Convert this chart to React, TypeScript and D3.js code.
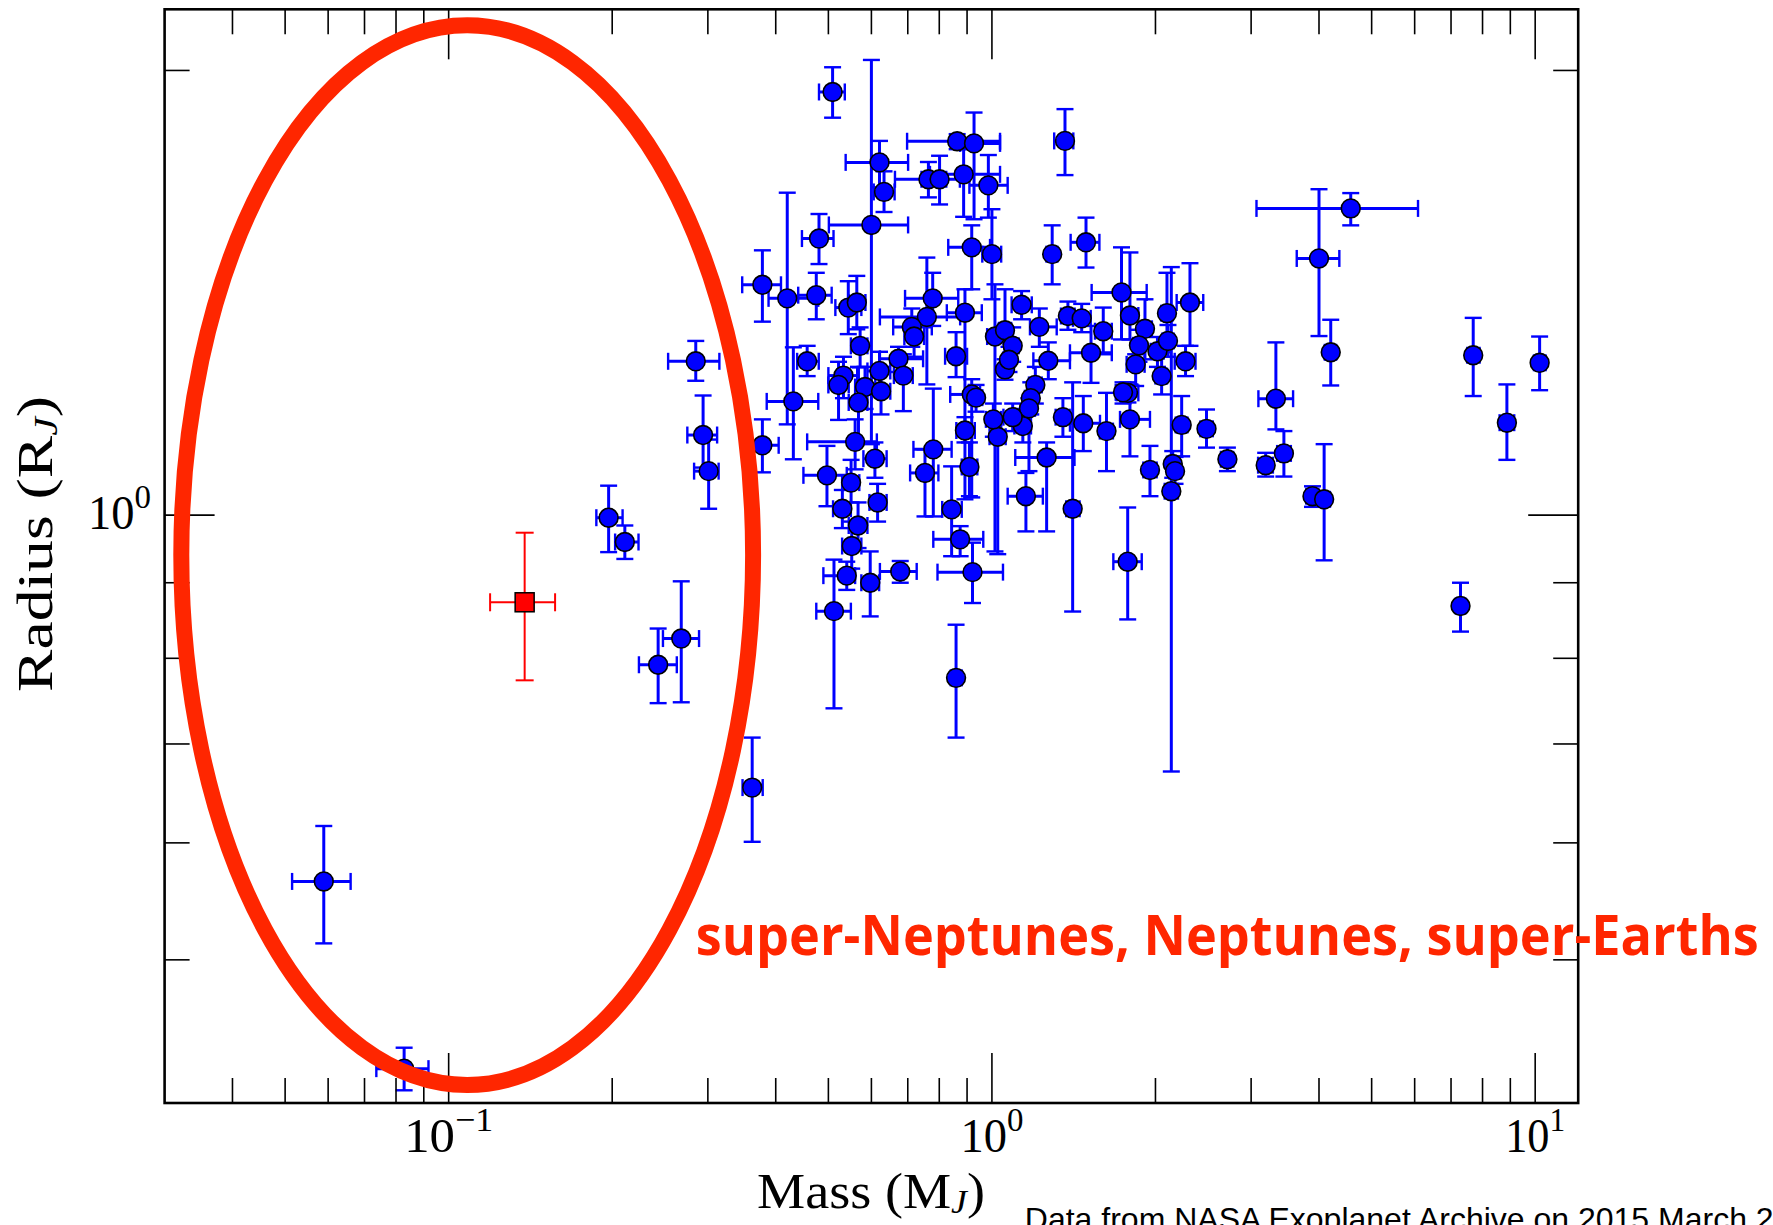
import React from "react";
import * as d3 from "d3";

// Canvas and plot frame (pixels)
const WIDTH = 1773;
const HEIGHT = 1225;
const FRAME = { left: 164.6, right: 1578.2, top: 9.3, bottom: 1103 };

// Axis domains (log scales)
const massDomain = [0.03, 12];
const radiusDomain = [0.4, 2.2];

// Tick positions and labels
const massMajorTicks = [0.1, 1, 10];
const massTickExponents = ["\u22121", "0", "1"];
const massMinorTicks = [0.04, 0.05, 0.06, 0.07, 0.08, 0.09, 0.2, 0.3, 0.4, 0.5, 0.6, 0.7, 0.8, 0.9, 2, 3, 4, 5, 6, 7, 8, 9];
const radiusMajorTicks = [1];
const radiusTickExponents = ["0"];
const radiusMinorTicks = [0.5, 0.6, 0.7, 0.8, 0.9, 2];

// Known exoplanets: mass (M_J), radius (R_J) and their error ranges
const planetMass = [
  0.0589, 0.0828, 0.197, 0.211, 0.243, 0.268, 0.285, 0.294, 0.301, 0.362,
  0.378, 0.378, 0.420, 0.431, 0.475, 0.4805, 0.457, 0.509, 0.600, 0.621,
  0.633, 0.764, 0.801, 0.863, 0.927, 0.887, 0.985, 0.918, 1.0, 1.363,
  1.49, 1.291, 4.576, 4.0, 4.204, 7.69, 10.19, 3.332, 8.87, 2.483,
  2.713, 3.191, 3.447, 3.891, 4.088, 7.287, 0.544, 0.564, 0.572, 0.533,
  0.522, 0.584, 0.621, 0.568, 0.625, 0.56, 0.609, 0.497, 0.5505, 0.616,
  0.5305, 0.567, 0.552, 0.5405, 0.597, 0.512, 0.678, 0.78, 0.753, 0.843,
  0.874, 0.921, 0.859, 0.909, 0.892, 1.025, 1.006, 1.14, 1.261, 1.155,
  1.408, 1.351, 1.473, 1.625, 1.795, 1.954, 2.152, 2.173, 2.139, 1.778,
  2.235, 0.778, 0.759, 0.712, 0.719, 0.892, 1.134, 1.38, 1.2225, 1.013,
  1.057, 1.092, 0.859, 0.673, 0.687, 1.057, 1.075, 1.27, 1.202, 1.179,
  1.17, 0.918, 0.935, 1.092, 1.463, 1.732, 1.795, 1.603, 1.913, 2.10,
  2.315, 1.865, 2.017, 2.109, 1.522, 1.839, 2.272, 2.053, 1.78, 1.743,
];
const planetRadius = [
  0.565, 0.422, 0.996, 0.959, 0.792, 0.825, 1.271, 1.133, 1.071, 0.654,
  1.115, 1.432, 1.402, 1.194, 1.409, 1.539, 1.271, 1.934, 1.572, 1.733,
  1.655, 1.688, 1.688, 1.791, 1.785, 1.701, 1.672, 1.518, 1.502, 1.792,
  1.53, 1.502, 1.613, 1.492, 1.289, 1.283, 1.268, 1.199, 1.155, 1.144,
  1.091, 1.081, 1.101, 1.03, 1.025, 0.868, 1.382, 1.393, 1.302, 1.243,
  1.225, 1.221, 1.252, 1.192, 1.213, 1.121, 1.092, 1.064, 1.052, 1.02,
  1.01, 0.984, 0.953, 0.910, 0.9, 0.861, 0.916, 1.108, 1.068, 1.009,
  0.963, 0.915, 0.776, 1.078, 1.141, 1.13, 1.161, 1.149, 1.094, 1.03,
  1.01, 1.165, 1.154, 1.14, 1.161, 1.073, 1.083, 1.071, 1.038, 0.930,
  1.151, 1.402, 1.362, 1.341, 1.321, 1.371, 1.388, 1.364, 1.341, 1.321,
  1.334, 1.302, 1.281, 1.276, 1.243, 1.255, 1.274, 1.272, 1.225, 1.2,
  1.181, 1.207, 1.201, 1.165, 1.359, 1.415, 1.365, 1.332, 1.337, 1.37,
  1.393, 1.303, 1.291, 1.312, 1.288, 1.265, 1.271, 1.242, 1.21, 1.211,
];
const massLow = [
  0.0515, 0.0736, 0.187, 0.2025, 0.224, 0.248, 0.2535, 0.275, 0.283, 0.3475,
  0.353, 0.347, 0.388, 0.385, 0.440, 0.447, 0.438, 0.4805, 0.501, 0.538,
  0.606, 0.663, 0.742, 0.698, 0.874, 0.769, 0.909, 0.831, 0.96, 1.302,
  1.396, 1.26, 3.069, 3.64, 4.1, 7.5, 9.95, 3.094, 8.6, 2.42,
  2.64, 3.09, 3.35, 3.79, 3.99, 7.14, 0.515, 0.545, 0.55, 0.50,
  0.50, 0.56, 0.59, 0.545, 0.60, 0.457, 0.58, 0.4498, 0.53, 0.595,
  0.51, 0.545, 0.53, 0.4895, 0.575, 0.475, 0.622, 0.717, 0.707, 0.81,
  0.78, 0.794, 0.84, 0.88, 0.86, 0.99, 0.975, 1.10, 1.104, 1.069,
  1.37, 1.31, 1.392, 1.58, 1.721, 1.90, 2.10, 2.12, 2.08, 1.673,
  2.18, 0.692, 0.622, 0.658, 0.69, 0.826, 1.087, 1.34, 1.175, 0.98,
  1.03, 1.065, 0.82, 0.622, 0.66, 1.035, 1.05, 1.192, 1.17, 1.15,
  1.14, 0.838, 0.91, 1.05, 1.41, 1.526, 1.73, 1.548, 1.86, 2.05,
  2.188, 1.82, 1.96, 2.06, 1.392, 1.77, 2.17, 2.0, 1.697, 1.69,
];
const massHigh = [
  0.066, 0.0918, 0.209, 0.2236, 0.263, 0.289, 0.315, 0.312, 0.314, 0.3785,
  0.405, 0.409, 0.479, 0.479, 0.507, 0.511, 0.48, 0.536, 0.701, 0.701,
  0.662, 0.824, 0.873, 1.035, 1.035, 1.035, 1.069, 0.992, 1.04, 1.412,
  1.577, 1.32, 6.086, 4.36, 4.3, 7.9, 10.45, 3.584, 9.15, 2.55,
  2.78, 3.29, 3.55, 3.99, 4.19, 7.44, 0.575, 0.585, 0.59, 0.565,
  0.545, 0.61, 0.65, 0.59, 0.65, 0.614, 0.64, 0.5405, 0.57, 0.64,
  0.55, 0.59, 0.575, 0.56, 0.62, 0.55, 0.727, 0.843, 0.797, 0.88,
  0.964, 1.048, 0.88, 0.94, 0.93, 1.06, 1.04, 1.18, 1.419, 1.241,
  1.45, 1.39, 1.581, 1.67, 1.954, 2.01, 2.21, 2.23, 2.20, 1.887,
  2.29, 0.867, 0.874, 0.775, 0.75, 0.958, 1.184, 1.42, 1.316, 1.05,
  1.085, 1.12, 0.90, 0.747, 0.715, 1.08, 1.10, 1.392, 1.235, 1.21,
  1.20, 0.951, 0.96, 1.16, 1.52, 1.927, 1.86, 1.662, 1.97, 2.15,
  2.449, 1.91, 2.07, 2.16, 1.662, 1.91, 2.37, 2.1, 1.86, 1.80,
];
const radiusLow = [
  0.513, 0.408, 0.944, 0.934, 0.746, 0.747, 1.233, 1.077, 1.01, 0.601,
  1.069, 1.352, 1.152, 1.091, 1.357, 1.479, 1.242, 1.858, 1.117, 1.667,
  1.604, 1.641, 1.623, 1.769, 1.586, 1.592, 1.59, 1.422, 1.40, 1.699,
  1.471, 1.433, 1.571, 1.322, 1.224, 1.204, 1.215, 1.143, 1.09, 1.111,
  1.071, 1.062, 1.062, 1.013, 0.932, 0.834, 1.326, 1.336, 1.259, 1.20,
  1.16, 1.18, 1.21, 1.12, 1.17, 1.074, 1.06, 1.014, 1.02, 0.99,
  0.98, 0.95, 0.92, 0.89, 0.854, 0.740, 0.9, 0.998, 0.998, 0.938,
  0.938, 0.872, 0.707, 1.03, 1.12, 0.941, 1.13, 1.12, 0.975, 0.975,
  0.8605, 1.13, 1.105, 1.071, 1.096, 1.03, 1.06, 1.05, 0.6706, 0.85,
  1.096, 1.343, 1.226, 1.30, 1.28, 1.025, 1.357, 1.335, 1.30, 0.945,
  1.255, 1.27, 1.24, 1.25, 1.176, 1.235, 1.25, 1.236, 1.19, 1.17,
  1.071, 1.028, 1.175, 1.14, 1.33, 1.315, 1.315, 1.285, 1.275, 1.315,
  1.302, 1.27, 1.26, 1.28, 1.229, 1.223, 1.242, 1.207, 1.192, 1.19,
];
const radiusHigh = [
  0.616, 0.436, 1.047, 0.984, 0.838, 0.902, 1.312, 1.205, 1.125, 0.707,
  1.161, 1.511, 1.653, 1.299, 1.459, 1.599, 1.302, 2.010, 2.033, 1.792,
  1.709, 1.734, 1.751, 1.811, 1.873, 1.769, 1.753, 1.571, 1.611, 1.883,
  1.59, 1.571, 1.652, 1.662, 1.356, 1.36, 1.321, 1.309, 1.226, 1.179,
  1.111, 1.102, 1.14, 1.046, 1.117, 0.9, 1.44, 1.452, 1.34, 1.28,
  1.27, 1.26, 1.29, 1.26, 1.26, 1.161, 1.12, 1.114, 1.09, 1.05,
  1.04, 1.02, 0.99, 0.93, 0.945, 0.933, 0.931, 1.218, 1.108, 1.079,
  0.983, 0.958, 0.843, 1.12, 1.165, 1.161, 1.19, 1.18, 1.12, 1.068,
  1.23, 1.2, 1.204, 1.21, 1.226, 1.114, 1.105, 1.095, 1.472, 1.012,
  1.204, 1.459, 1.494, 1.38, 1.36, 1.422, 1.418, 1.395, 1.38, 1.433,
  1.422, 1.34, 1.33, 1.30, 1.285, 1.275, 1.30, 1.309, 1.26, 1.23,
  1.2, 1.236, 1.225, 1.19, 1.39, 1.518, 1.506, 1.382, 1.40, 1.459,
  1.481, 1.335, 1.32, 1.345, 1.343, 1.285, 1.302, 1.289, 1.23, 1.23,
];

// Highlighted planet (red square)
const highlightMass = [0.138];
const highlightRadius = [0.873];
const highlightMassLow = [0.1192];
const highlightMassHigh = [0.157];
const highlightRadiusLow = [0.773];
const highlightRadiusHigh = [0.973];

// Region outlined by the red ellipse (data-space bounding box)
const regionMass = [0.0322, 0.3634];
const regionRadius = [0.4114, 2.146];

const BLUE = "#0000ff";
const RED = "#ff0000";
const ORANGE_RED = "#ff2600";
const SERIF = "'Liberation Serif', 'DejaVu Serif', serif";

// widths of the math-style labels
const massTickLabelWidths = [89, 63, 60];

export default function App() {
  const x = d3.scaleLog().domain(massDomain).range([FRAME.left, FRAME.right]);
  const y = d3.scaleLog().domain(radiusDomain).range([FRAME.bottom, FRAME.top]);

  const majorLen = 50;
  const minorLen = 25;
  const cap = 8.5;

  const points = planetMass.map((m, i) => ({
    cx: x(m),
    cy: y(planetRadius[i]),
    x0: x(massLow[i]),
    x1: x(massHigh[i]),
    y0: y(radiusLow[i]),
    y1: y(radiusHigh[i]),
  }));

  const hl = highlightMass.map((m, i) => ({
    cx: x(m),
    cy: y(highlightRadius[i]),
    x0: x(highlightMassLow[i]),
    x1: x(highlightMassHigh[i]),
    y0: y(highlightRadiusLow[i]),
    y1: y(highlightRadiusHigh[i]),
  }));

  const ex0 = x(regionMass[0]);
  const ex1 = x(regionMass[1]);
  const ey0 = y(regionRadius[0]);
  const ey1 = y(regionRadius[1]);

  const errorBar = (p: any, key: string, color: string, w: number, capW: number, c: number) => (
    <g key={key} stroke={color} fill="none">
      <line x1={p.x0} x2={p.x1} y1={p.cy} y2={p.cy} strokeWidth={w} />
      <line x1={p.cx} x2={p.cx} y1={p.y0} y2={p.y1} strokeWidth={w} />
      <line x1={p.x0} x2={p.x0} y1={p.cy - c} y2={p.cy + c} strokeWidth={capW} />
      <line x1={p.x1} x2={p.x1} y1={p.cy - c} y2={p.cy + c} strokeWidth={capW} />
      <line x1={p.cx - c} x2={p.cx + c} y1={p.y0} y2={p.y0} strokeWidth={capW} />
      <line x1={p.cx - c} x2={p.cx + c} y1={p.y1} y2={p.y1} strokeWidth={capW} />
    </g>
  );

  return (
    <svg
      width={WIDTH}
      height={HEIGHT}
      viewBox={`0 0 ${WIDTH} ${HEIGHT}`}
      style={{ position: "absolute", left: 0, top: 0, display: "block", background: "#fff" }}
    >
      <rect x={0} y={0} width={WIDTH} height={HEIGHT} fill="#fff" />

      {/* error bars, then markers */}
      {points.map((p, i) => errorBar(p, `e${i}`, BLUE, 3, 2.4, cap))}
      {points.map((p, i) => (
        <circle key={`c${i}`} cx={p.cx} cy={p.cy} r={9.4} fill={BLUE} stroke="#000" strokeWidth={1.6} />
      ))}

      {hl.map((p, i) => errorBar(p, `h${i}`, RED, 2, 2, 9))}
      {hl.map((p, i) => (
        <rect key={`s${i}`} x={p.cx - 9.5} y={p.cy - 9.5} width={19} height={19} fill={RED} stroke="#000" strokeWidth={1.5} />
      ))}

      {/* ticks on all four sides, pointing inward */}
      <g stroke="#000" strokeWidth={1.6}>
        {massMajorTicks.map((t) => (
          <g key={`mx${t}`}>
            <line x1={x(t)} x2={x(t)} y1={FRAME.bottom} y2={FRAME.bottom - majorLen} />
            <line x1={x(t)} x2={x(t)} y1={FRAME.top} y2={FRAME.top + majorLen} />
          </g>
        ))}
        {massMinorTicks.map((t) => (
          <g key={`nx${t}`}>
            <line x1={x(t)} x2={x(t)} y1={FRAME.bottom} y2={FRAME.bottom - minorLen} />
            <line x1={x(t)} x2={x(t)} y1={FRAME.top} y2={FRAME.top + minorLen} />
          </g>
        ))}
        {radiusMajorTicks.map((t) => (
          <g key={`my${t}`}>
            <line x1={FRAME.left} x2={FRAME.left + majorLen} y1={y(t)} y2={y(t)} />
            <line x1={FRAME.right} x2={FRAME.right - majorLen} y1={y(t)} y2={y(t)} />
          </g>
        ))}
        {radiusMinorTicks.map((t) => (
          <g key={`ny${t}`}>
            <line x1={FRAME.left} x2={FRAME.left + minorLen} y1={y(t)} y2={y(t)} />
            <line x1={FRAME.right} x2={FRAME.right - minorLen} y1={y(t)} y2={y(t)} />
          </g>
        ))}
      </g>

      <rect
        x={FRAME.left}
        y={FRAME.top}
        width={FRAME.right - FRAME.left}
        height={FRAME.bottom - FRAME.top}
        fill="none"
        stroke="#000"
        strokeWidth={2.6}
      />

      {/* tick labels */}
      {massMajorTicks.map((t, i) => (
        <text
          key={`lx${t}`}
          x={x(t)}
          y={1152}
          textAnchor="middle"
          fontFamily={SERIF}
          fontSize={48}
          fill="#000"
          textLength={massTickLabelWidths[i]}
          lengthAdjust="spacingAndGlyphs"
        >
          <tspan>10</tspan>
          <tspan dy={-21} fontSize={34}>{massTickExponents[i]}</tspan>
        </text>
      ))}
      {radiusMajorTicks.map((t, i) => (
        <text
          key={`ly${t}`}
          x={151}
          y={y(t) + 14}
          textAnchor="end"
          fontFamily={SERIF}
          fontSize={48}
          fill="#000"
          textLength={63}
          lengthAdjust="spacingAndGlyphs"
        >
          <tspan>10</tspan>
          <tspan dy={-21} fontSize={34}>{radiusTickExponents[i]}</tspan>
        </text>
      ))}

      {/* axis titles */}
      <text
        x={871}
        y={1208}
        textAnchor="middle"
        fontFamily={SERIF}
        fontSize={50}
        fill="#000"
        textLength={228}
        lengthAdjust="spacingAndGlyphs"
      >
        <tspan>Mass (M</tspan>
        <tspan dy={5} fontSize={33} fontStyle="italic">J</tspan>
        <tspan dy={-5}>)</tspan>
      </text>
      <text
        transform="translate(52,544) rotate(-90)"
        textAnchor="middle"
        fontFamily={SERIF}
        fontSize={50}
        fill="#000"
        textLength={296}
        lengthAdjust="spacingAndGlyphs"
      >
        <tspan>Radius (R</tspan>
        <tspan dy={5} fontSize={33} fontStyle="italic">J</tspan>
        <tspan dy={-5}>)</tspan>
      </text>

      {/* highlighted region */}
      <ellipse
        cx={(ex0 + ex1) / 2}
        cy={(ey0 + ey1) / 2}
        rx={Math.abs(ex1 - ex0) / 2}
        ry={Math.abs(ey0 - ey1) / 2}
        fill="none"
        stroke={ORANGE_RED}
        strokeWidth={16}
      />
      <text
        x={695.7}
        y={955}
        fontFamily="'Open Sans', 'Noto Sans', sans-serif"
        fontWeight="bold"
        fontSize={56}
        fill={ORANGE_RED}
        textLength={1063}
        lengthAdjust="spacingAndGlyphs"
      >
        super-Neptunes, Neptunes, super-Earths
      </text>

      <text x={1024.8} y={1229.6} fontFamily="'Liberation Sans', Arial, sans-serif" fontSize={32} fill="#000">
        Data from NASA Exoplanet Archive on 2015 March 2
      </text>
    </svg>
  );
}
